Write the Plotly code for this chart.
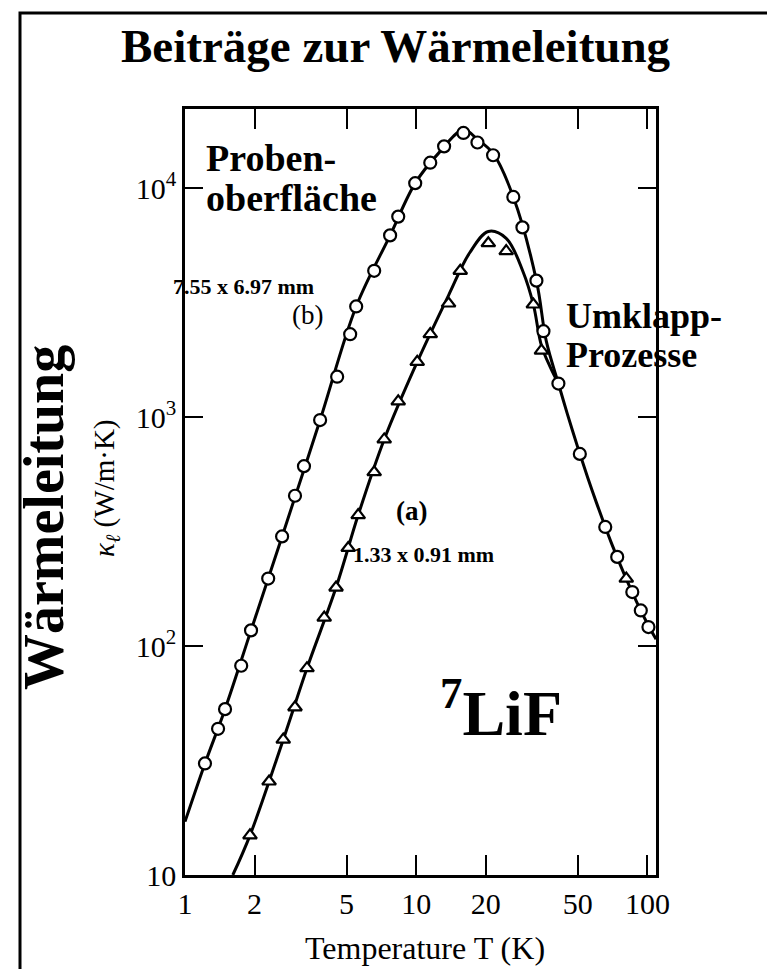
import plotly.graph_objects as go

# ---- data ----
# (b) large sample 7.55 x 6.97 mm : open circles
T_b = [1.22, 1.39, 1.49, 1.75, 1.93, 2.29, 2.63, 2.99, 3.27, 3.84, 4.55, 5.18, 5.5, 6.58, 7.71, 8.36,
       9.9, 11.5, 13.2, 16.0, 18.4, 21.5, 26.3, 28.8, 33.1, 35.5, 41.2, 51, 65.7, 74, 86, 93.6, 101]
k_b = [30.7, 43.5, 53, 82, 117, 197, 301, 453, 610, 970, 1500, 2300, 3040, 4350, 6210, 7500,
       10500, 12900, 15200, 17400, 15800, 13900, 9140, 6730, 3940, 2370, 1400, 690, 331, 245, 172, 143, 121]
# (a) small sample 1.33 x 0.91 mm : open triangles
T_a = [1.91, 2.31, 2.66, 2.99, 3.37, 4.0, 4.5, 5.08, 5.61, 6.58, 7.27, 8.36, 10.1, 11.5, 13.8, 15.5,
       20.5, 24.5, 32.1, 34.8, 81]
k_a = [14.9, 25.6, 39, 54, 80, 133, 180, 268, 373, 574, 798, 1170, 1740, 2300, 3130, 4350,
       5740, 5300, 3100, 1950, 197]
# fitted curves
Tc_b = [1.0, 1.22, 1.49, 1.93, 2.63, 3.84, 5.5, 7.71, 9.9, 12.5, 16.0, 18.4, 21.5, 26.3, 33.1, 36.5,
        41.2, 45, 50, 55, 60, 70, 80, 90, 100, 109]
kc_b = [17.1, 30.7, 53, 117, 301, 970, 3040, 6210, 10500, 14200, 17950, 16300, 14150, 9140, 3940, 2150,
        1400, 1035, 735, 548, 426, 280, 202, 155, 125, 107]
Tc_a = [1.61, 1.91, 2.66, 3.37, 4.5, 5.61, 7.27, 10.1, 13.8, 17.0, 20.5, 24.5, 29.0, 32.1, 34.8, 38.0,
        41.2]
kc_a = [10.0, 14.9, 39, 80, 180, 373, 798, 1740, 3400, 5200, 6460, 6030, 4300, 3100, 2050, 1650,
        1400]

x_ticks = [1, 2, 5, 10, 20, 50, 100]
x_ticktext = ["1", "2", "5", "10", "20", "50", "100"]
y_ticks = [10, 100, 1000, 10000]
y_ticktext = ["10", "10<sup>2</sup>", "10<sup>3</sup>", "10<sup>4</sup>"]

# ---- layout geometry (pixels) ----
W, H = 775, 969
L, R, Tp, B = 177, 648, 101, 867
pw, ph = R - L, B - Tp


def px(x):
    return (x - L) / pw


def py(y):
    return (B - y) / ph


SERIF = "Liberation Serif"

fig = go.Figure()
fig.add_trace(go.Scatter(x=Tc_b, y=kc_b, mode="lines", line=dict(color="black", width=3, shape="spline"),
                         hoverinfo="skip", showlegend=False))
fig.add_trace(go.Scatter(x=Tc_a, y=kc_a, mode="lines", line=dict(color="black", width=3, shape="spline"),
                         hoverinfo="skip", showlegend=False))
fig.add_trace(go.Scatter(x=T_b, y=k_b, mode="markers",
                         marker=dict(symbol="circle", size=12, color="white", line=dict(color="black", width=2.2)),
                         showlegend=False))
fig.add_trace(go.Scatter(x=T_a, y=k_a, mode="markers",
                         marker=dict(symbol="triangle-up", size=12, color="white", line=dict(color="black", width=2.2)),
                         showlegend=False))

axis_common = dict(showgrid=False, zeroline=False, showline=True, linecolor="black", linewidth=2.5,
                   mirror="ticks", ticks="inside", tickcolor="black", tickwidth=2,
                   tickfont=dict(family=SERIF, size=30, color="black"))
fig.update_xaxes(type="log", range=[0, 2.037], tickvals=x_ticks, ticktext=x_ticktext, ticklen=20,
                 **axis_common)
fig.update_yaxes(type="log", range=[1, 4.345], tickvals=y_ticks, ticktext=y_ticktext, ticklen=18,
                 **axis_common)

ann = []


def text(x, y, t, size, bold=False, xanchor="left", yanchor="middle", angle=0):
    s = t
    if bold:
        s = "<b>" + s + "</b>"
    ann.append(dict(x=px(x), y=py(y), xref="paper", yref="paper", text=s, showarrow=False,
                    xanchor=xanchor, yanchor=yanchor, textangle=angle,
                    font=dict(family=SERIF, size=size, color="black")))


text(388, 38, "Beiträge zur Wärmeleitung", 47, bold=True, xanchor="center")
text(196, 150, "Proben-", 38, bold=True)
text(196, 190, "oberfläche", 38, bold=True)
text(163, 278, "7.55 x 6.97 mm", 22, bold=True)
text(282, 307, "(b)", 27)
text(556, 308, "Umklapp-", 36, bold=True)
text(556, 347, "Prozesse", 36, bold=True)
text(386, 503, "(a)", 27, bold=True)
text(343, 546, "1.33 x 0.91 mm", 22, bold=True)
text(430, 700, "<sup>7</sup>LiF", 64, bold=True)
text(417, 940, "Temperature T (K)", 32, xanchor="center")
text(36, 510, "Wärmeleitung", 56, bold=True, xanchor="center", angle=-90)
text(98, 480, "<i>κ<sub>ℓ</sub></i> (W/m·K)", 29, xanchor="center", angle=-90)

fig.update_layout(
    width=W, height=H, autosize=False,
    margin=dict(l=L, r=W - R, t=Tp, b=H - B, pad=0),
    paper_bgcolor="white", plot_bgcolor="white",
    annotations=ann,
    shapes=[dict(type="rect", xref="paper", yref="paper",
                 x0=px(12), x1=px(765), y0=py(963), y1=py(5),
                 line=dict(color="black", width=3), fillcolor="rgba(0,0,0,0)", layer="below")],
    showlegend=False,
)

fig.write_html("out.html")
